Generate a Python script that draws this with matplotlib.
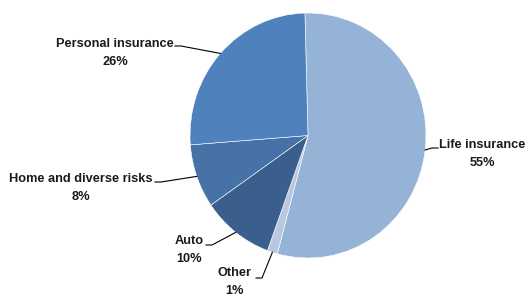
import numpy as np
import matplotlib
matplotlib.use('Agg')
import matplotlib.pyplot as plt
from matplotlib import font_manager

# data
labels = ['Life insurance', 'Other', 'Auto', 'Home and diverse risks', 'Personal insurance']
shares = [54.6, 1.4, 9.8, 8.4, 25.8]
colors = ['#95B3D7', '#B9C7E2', '#3A5F8D', '#4672A7', '#4F81BD']

names = {f.name for f in font_manager.fontManager.ttflist}
fam = 'Liberation Sans Narrow' if 'Liberation Sans Narrow' in names else 'Liberation Sans'

W, H = 526, 295
fig = plt.figure(figsize=(W / 100, H / 100), dpi=100)

# pie box in pixels (slightly taller than wide, as in the original)
cx, cy, rx, ry = 308, 135.5, 118, 122.5
pie_ax = fig.add_axes([(cx - rx) / W, 1 - (cy + ry) / H, 2 * rx / W, 2 * ry / H])
wedges, _ = pie_ax.pie(shares, colors=colors, startangle=91.5, counterclock=False,
                       wedgeprops=dict(edgecolor='white', linewidth=0.4), frame=True)
pie_ax.set_aspect('auto')
pie_ax.set_xlim(-1, 1)
pie_ax.set_ylim(-1, 1)
pie_ax.axis('off')

# overlay in pixel coords for labels
ov = fig.add_axes([0, 0, 1, 1], facecolor='none')
ov.set_xlim(0, W)
ov.set_ylim(H, 0)
ov.axis('off')

# label centre, line end near label
text_pos = [(482, 154), (235, 282), (189, 250), (81, 188), (115, 53)]
line_end = [(438, 148), (256, 278), (206, 245), (155, 182), (175, 46)]
side = [-1, 1, 1, 1, 1]

for w, lab, val, tp, le, s in zip(wedges, labels, shares, text_pos, line_end, side):
    mid = np.deg2rad((w.theta1 + w.theta2) / 2)
    ex, ey = cx + rx * np.cos(mid), cy - ry * np.sin(mid)
    kx = le[0] + 6 * s
    ov.plot([le[0], kx, ex], [le[1], le[1], ey], color='black', lw=0.8)
    ov.text(tp[0], tp[1], f'{lab}\n{val:.0f}%', ha='center', va='center',
            fontsize=9.2, fontweight='bold', family=fam, linespacing=1.6, color='#1a1a1a')

fig.savefig('out.png', dpi=100)
